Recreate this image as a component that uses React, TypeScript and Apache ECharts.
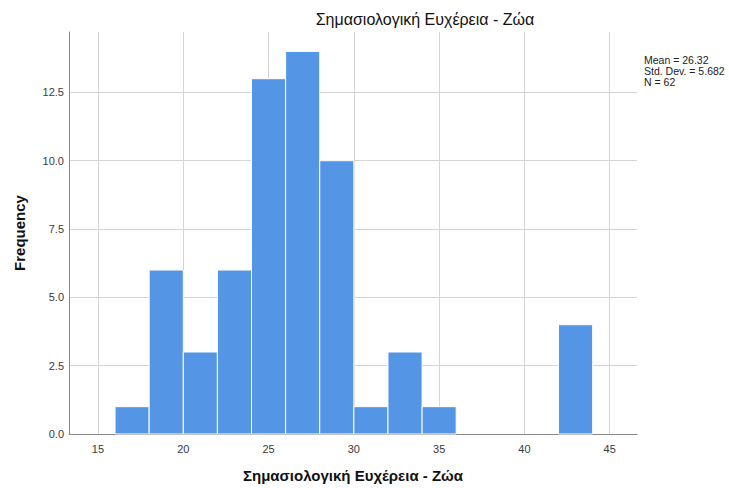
import React, { useEffect, useRef } from "react";
import * as echarts from "echarts";

const binStarts = [16, 18, 20, 22, 24, 26, 28, 30, 32, 34, 36, 38, 40, 42];
const binWidth = 2;
const counts = [1, 6, 3, 6, 13, 14, 10, 1, 3, 1, 0, 0, 0, 4];
const xTicks = [15, 20, 25, 30, 35, 40, 45];
const yTicks = [0, 2.5, 5, 7.5, 10, 12.5];
const titleText = "Σημασιολογική Ευχέρεια - Ζώα";
const statsLines = ["Mean = 26.32", "Std. Dev. = 5.682", "N = 62"];

export default function App() {
  const ref = useRef<HTMLDivElement>(null);
  useEffect(() => {
    if (!ref.current) return;
    const chart = echarts.init(ref.current, undefined, { renderer: "svg" });
    const font = "'Liberation Sans', Arial, sans-serif";
    const data = binStarts.map((s, i) => [s, s + binWidth, counts[i]]);
    chart.setOption({
      animation: false,
      textStyle: { fontFamily: font },
      grid: { left: 69, top: 32, right: 92, bottom: 50, containLabel: false },
      xAxis: {
        type: "value",
        min: 13.3,
        max: 46.6,
        name: titleText,
        nameLocation: "middle",
        nameGap: 34,
        nameTextStyle: { fontSize: 15, fontWeight: "bold", color: "#111", fontFamily: font },
        axisLine: { show: true, onZero: false, lineStyle: { color: "#888", width: 1 } },
        axisTick: { show: false, customValues: xTicks },
        axisLabel: { customValues: xTicks, fontSize: 11, color: "#3a3a3a", margin: 9, fontFamily: font },
        splitLine: { show: true, lineStyle: { color: "#d4d4d4", width: 1 } },
      },
      yAxis: {
        type: "value",
        min: 0,
        max: 14.71,
        name: "Frequency",
        nameLocation: "middle",
        nameGap: 42,
        nameTextStyle: { fontSize: 15, fontWeight: "bold", color: "#111", fontFamily: font },
        axisLine: { show: true, lineStyle: { color: "#888", width: 1 } },
        axisTick: { show: false, customValues: yTicks },
        axisLabel: {
          customValues: yTicks,
          fontSize: 11,
          color: "#3a3a3a",
          margin: 5,
          padding: [6, 0, 0, 0],
          fontFamily: font,
          formatter: (v: number) => v.toFixed(1),
        },
        splitLine: { show: true, lineStyle: { color: "#d4d4d4", width: 1 } },
      },
      series: [
        {
          type: "custom",
          data,
          encode: { x: [0, 1], y: 2 },
          renderItem: (params: any, api: any) => {
            const p0 = api.coord([api.value(0), api.value(2)]);
            const p1 = api.coord([api.value(1), 0]);
            if (api.value(2) <= 0) return null;
            return {
              type: "rect",
              shape: { x: p0[0], y: p0[1], width: p1[0] - p0[0], height: p1[1] - p0[1] },
              style: { fill: "#5595e5", stroke: "#ffffff", lineWidth: 1 },
            };
          },
        },
      ],
      graphic: [
        {
          type: "text",
          x: 425,
          y: 11,
          style: {
            text: titleText,
            fontSize: 16,
            fontFamily: font,
            fill: "#111",
            textAlign: "center",
            textVerticalAlign: "top",
          },
        },
        {
          type: "text",
          x: 644,
          y: 54,
          style: {
            text: statsLines.join("\n"),
            fontSize: 10.5,
            lineHeight: 11.3,
            fontFamily: font,
            fill: "#222",
          },
        },
      ],
    });
    return () => chart.dispose();
  }, []);
  return <div ref={ref} style={{ width: 729, height: 488, position: "absolute", left: 0, top: 0 }} />;
}
